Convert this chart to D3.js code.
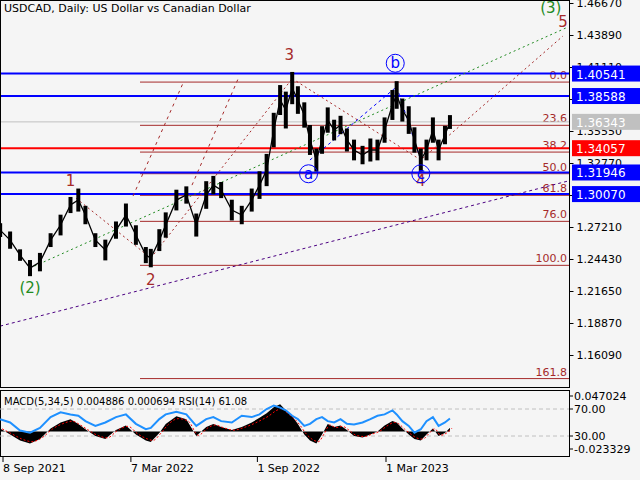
<!DOCTYPE html>
<html><head><meta charset="utf-8">
<script src="https://cdn.jsdelivr.net/npm/d3@7"></script>
<style>
body{margin:0;background:#fff;}
text{font-family:Tahoma,"DejaVu Sans",sans-serif;font-size:10px;}
</style></head>
<body><svg id="c" width="640" height="480"></svg>
<script>
// price path (approximate closes)
const dates = ["2021-09-04","2021-09-18","2021-10-02","2021-10-16","2021-10-30","2021-11-14","2021-11-28","2021-12-12","2021-12-23","2022-01-02","2022-01-16","2022-01-30","2022-02-14","2022-02-28","2022-03-14","2022-03-28","2022-04-04","2022-04-16","2022-04-25","2022-05-10","2022-05-24","2022-06-07","2022-06-21","2022-07-01","2022-07-12","2022-07-27","2022-08-10","2022-08-24","2022-09-04","2022-09-14","2022-09-24","2022-10-03","2022-10-11","2022-10-20","2022-10-28","2022-11-06","2022-11-14","2022-11-23","2022-12-01","2022-12-09","2022-12-18","2022-12-27","2023-01-05","2023-01-15","2023-01-27","2023-02-07","2023-02-17","2023-02-27","2023-03-10","2023-03-16","2023-03-24","2023-04-02","2023-04-10","2023-04-19","2023-04-27","2023-05-06","2023-05-14","2023-05-23","2023-05-30"];
const closes = [1.2694,1.2607,1.2477,1.2364,1.2416,1.2607,1.2738,1.2912,1.2955,1.2825,1.2607,1.2521,1.2694,1.2825,1.2651,1.2477,1.2451,1.2607,1.2738,1.2955,1.2999,1.2738,1.2999,1.3085,1.3042,1.2868,1.2825,1.2955,1.3085,1.3216,1.3563,1.3824,1.3737,1.3928,1.3824,1.3694,1.3477,1.3303,1.3477,1.3650,1.3563,1.3607,1.3477,1.3390,1.3346,1.3390,1.3390,1.3563,1.3781,1.3868,1.3737,1.3650,1.3477,1.3303,1.3390,1.3563,1.3390,1.3520,1.3633];
// weekly high-low spread around each close
const spreads = [0.012,0.015,0.010,0.014,0.016,0.012,0.018,0.014,0.020,0.016,0.012,0.018,0.015,0.020,0.017,0.014,0.016,0.019,0.022,0.018,0.015,0.020,0.024,0.016,0.014,0.018,0.016,0.020,0.024,0.028,0.030,0.026,0.032,0.028,0.024,0.022,0.026,0.020,0.024,0.022,0.018,0.016,0.020,0.018,0.016,0.020,0.018,0.022,0.026,0.024,0.020,0.024,0.022,0.020,0.018,0.022,0.018,0.016,0.012];
const rsi = [55,50,38,35,42,58,65,62,60,52,45,50,58,62,48,40,42,55,62,66,62,45,55,58,52,50,60,58,62,70,75,72,68,60,55,45,48,55,58,52,50,55,48,47,50,55,60,62,68,62,52,45,35,40,52,58,45,50,56];
const macd = [0.004,-0.004,-0.012,-0.016,-0.010,0.004,0.012,0.016,0.010,0.003,-0.006,-0.010,0.002,0.008,-0.004,-0.012,-0.014,-0.002,0.010,0.020,0.016,-0.006,0.006,0.010,0.006,0.002,0.006,0.012,0.018,0.024,0.032,0.036,0.028,0.020,0.010,-0.004,-0.012,-0.016,-0.004,0.010,0.006,0.008,0.002,-0.006,-0.008,-0.004,0.000,0.008,0.014,0.012,0.004,-0.004,-0.010,-0.012,-0.004,0.004,-0.006,-0.002,0.005];
const levelsBlue = [1.40541,1.38588,1.31946,1.30070];
const fibNames = ["0.0","23.6","38.2","50.0","61.8","76.0","100.0","161.8"];
const fibRatios = [0,0.236,0.382,0.5,0.618,0.76,1,1.618];
const fibTop = 1.3980, fibBottom = 1.2388;
const priceTicks = [1.46670,1.43890,1.41110,1.38330,1.35550,1.32770,1.29990,1.27210,1.24430,1.21650,1.18870,1.16090];
const timeTicks = [["2021-09-08","8 Sep 2021"],["2022-03-07","7 Mar 2022"],["2022-09-01","1 Sep 2022"],["2023-03-01","1 Mar 2023"]];

const svg = d3.select("#c");
const parse = d3.timeParse("%Y-%m-%d");
const right = 569;
const x = d3.scaleTime().domain([parse("2021-09-08"), parse("2023-03-01")]).range([3, 386]);
const y = d3.scaleLinear().domain([1.16090, 1.46670]).range([355, 3]);
const yr = d3.scaleLinear().domain([30, 70]).range([436, 409]);
const ym = d3.scaleLinear().domain([-0.023329, 0.047024]).range([449, 396]);

svg.append("rect").attr("width",640).attr("height",480).attr("fill","#f5f5f5");
const main = svg.append("g");
svg.append("clipPath").attr("id","cp").append("rect").attr("x",0).attr("y",0).attr("width",right).attr("height",387);

// fib levels
const fibX = 140;
fibRatios.forEach((r,i) => {
  const p = fibTop - r*(fibTop - fibBottom);
  main.append("line").attr("x1",fibX).attr("x2",right).attr("y1",y(p)).attr("y2",y(p)).attr("stroke","#a52a2a").attr("stroke-width",1);
  main.append("text").attr("x",right-2).attr("y",y(p)-3).attr("text-anchor","end").attr("fill","#a52a2a").style("font-size","11px").text(fibNames[i]);
});
main.append("line").attr("x1",0).attr("x2",right).attr("y1",y(1.36343)).attr("y2",y(1.36343)).attr("stroke","#c0c0c0");
levelsBlue.forEach(p => main.append("line").attr("x1",0).attr("x2",right).attr("y1",y(p)).attr("y2",y(p)).attr("stroke","#0000ff").attr("stroke-width",2));
main.append("line").attr("x1",0).attr("x2",right).attr("y1",y(1.34057)).attr("y2",y(1.34057)).attr("stroke","#ff0000").attr("stroke-width",2);

// trend and wave lines
const g2 = main.append("g").attr("clip-path","url(#cp)");
function seg(pts, color, dash) {
  g2.append("path").attr("d", d3.line().x(d=>x(parse(d[0]))).y(d=>y(d[1]))(pts))
    .attr("fill","none").attr("stroke",color).attr("stroke-dasharray",dash).attr("stroke-width",1);
}
seg([["2021-09-04",1.1860],["2023-11-12",1.3120]],"#4b0082","3,3");
seg([["2021-10-16",1.2364],["2023-11-12",1.4458]],"#228b22","2,3");
seg([["2021-12-20",1.2970],["2022-04-04",1.2451]],"#a52a2a","2,3");
seg([["2022-04-04",1.2451],["2022-10-20",1.4010]],"#a52a2a","2,3");
seg([["2022-10-20",1.4010],["2023-04-19",1.3303],["2023-11-05",1.4380]],"#a52a2a","2,3");
seg([["2022-06-01",1.3085],["2022-08-05",1.4010]],"#a52a2a","3,4");
seg([["2022-03-10",1.2990],["2022-05-20",1.3980]],"#a52a2a","3,4");
seg([["2022-11-14",1.3303],["2023-03-16",1.3940],["2023-04-19",1.3300]],"#0000ff","3,3");

// price: high-low bars plus close line
const px = d => x(parse(d));
g2.selectAll(".hl").data(closes).join("rect")
  .attr("x",(d,i)=>px(dates[i])-2).attr("width",4)
  .attr("y",(d,i)=>y(d+spreads[i]/2)).attr("height",(d,i)=>y(d-spreads[i]/2)-y(d+spreads[i]/2))
  .attr("fill","#000");
g2.append("path").attr("d", d3.line().x((d,i)=>px(dates[i])).y(d=>y(d))(closes))
  .attr("fill","none").attr("stroke","#000").attr("stroke-width",1.3);

// wave labels
function lab(t, d, p, c, circ) {
  const cx = x(parse(d)), cy = y(p);
  if (circ) main.append("circle").attr("cx",cx).attr("cy",cy-5).attr("r",9).attr("fill","none").attr("stroke",c);
  main.append("text").attr("x",cx).attr("y",cy).attr("text-anchor","middle").attr("fill",c).style("font-size","15px").text(t);
}
lab("1","2021-12-12",1.3080,"#a52a2a");
lab("2","2022-04-04",1.2220,"#a52a2a");
lab("(2)","2021-10-16",1.2150,"#228b22");
lab("3","2022-10-16",1.4170,"#a52a2a");
lab("4","2023-04-19",1.3080,"#a52a2a");
lab("5","2023-11-05",1.4460,"#a52a2a");
lab("(3)","2023-10-19",1.4580,"#228b22");
lab("a","2022-11-12",1.3140,"#0000ff",true);
lab("b","2023-03-14",1.4100,"#0000ff",true);
lab("c","2023-04-19",1.3140,"#0000ff",true);

// frames
svg.append("rect").attr("x",0.5).attr("y",0.5).attr("width",right).attr("height",387).attr("fill","none").attr("stroke","#000");
svg.append("rect").attr("x",0.5).attr("y",390.5).attr("width",right).attr("height",66).attr("fill","none").attr("stroke","#000");

// right price axis
const ax = svg.append("g").attr("transform",`translate(${right+0.5},0)`)
  .call(d3.axisRight(y).tickValues(priceTicks).tickFormat(d3.format(".5f")).tickSize(4).tickPadding(3));
ax.select(".domain").attr("d","M0,0V387");
ax.selectAll("text").style("font-size","11px").attr("fill","#000");
function tag(p, fill, col) {
  svg.append("rect").attr("x",572).attr("y",y(p)-8).attr("width",68).attr("height",16).attr("fill",fill);
  svg.append("text").attr("x",576).attr("y",y(p)+5).attr("fill",col).style("font-size","12px").text(p.toFixed(5));
}
tag(1.36343,"#c0c0c0","#fff");
levelsBlue.forEach(p=>tag(p,"#0000ff","#fff"));
tag(1.34057,"#ff0000","#fff");

// indicator panel
svg.append("text").attr("x",4).attr("y",405).text("MACD(5,34,5) 0.004886 0.000694 RSI(14) 61.08");
[70,30].forEach(v=>svg.append("line").attr("x1",0).attr("x2",right).attr("y1",yr(v)).attr("y2",yr(v)).attr("stroke","#c0c0c0").attr("stroke-dasharray","4,3"));
svg.append("path").attr("d", d3.area().x((d,i)=>px(dates[i])).y0(ym(0)).y1(d=>ym(d))(macd)).attr("fill","#000");
svg.append("path").attr("d", d3.line().x((d,i)=>px(dates[i])+2).y(d=>ym(d*0.85)).curve(d3.curveMonotoneX)(macd)).attr("fill","none").attr("stroke","#ff0000").attr("stroke-dasharray","2,2");
svg.append("path").attr("d", d3.line().x((d,i)=>px(dates[i])).y(d=>yr(d))(rsi)).attr("fill","none").attr("stroke","#1e90ff").attr("stroke-width",2);
[[0.047024,"0.047024"],[70,"70.00"],[30,"30.00"],[-0.023329,"-0.023329"]].forEach(([v,t],i)=>{
  const yy = i%3===0 ? ym(v) : yr(v);
  svg.append("line").attr("x1",right).attr("x2",right+4).attr("y1",yy).attr("y2",yy).attr("stroke","#000");
  svg.append("text").attr("x",right+5).attr("y",yy+4).style("font-size","11px").text(t);
});
svg.append("line").attr("x1",right+0.5).attr("x2",right+0.5).attr("y1",390).attr("y2",457).attr("stroke","#000");

// time axis
timeTicks.forEach(([d,t])=>{
  const xx = px(d);
  svg.append("line").attr("x1",xx).attr("x2",xx).attr("y1",457).attr("y2",462).attr("stroke","#000");
  svg.append("text").attr("x",xx).attr("y",472).style("font-size","11px").text(t);
});
svg.append("text").attr("x",4).attr("y",12).style("font-size","11px").text("USDCAD, Daily:  US Dollar vs Canadian Dollar");
</script></body></html>
